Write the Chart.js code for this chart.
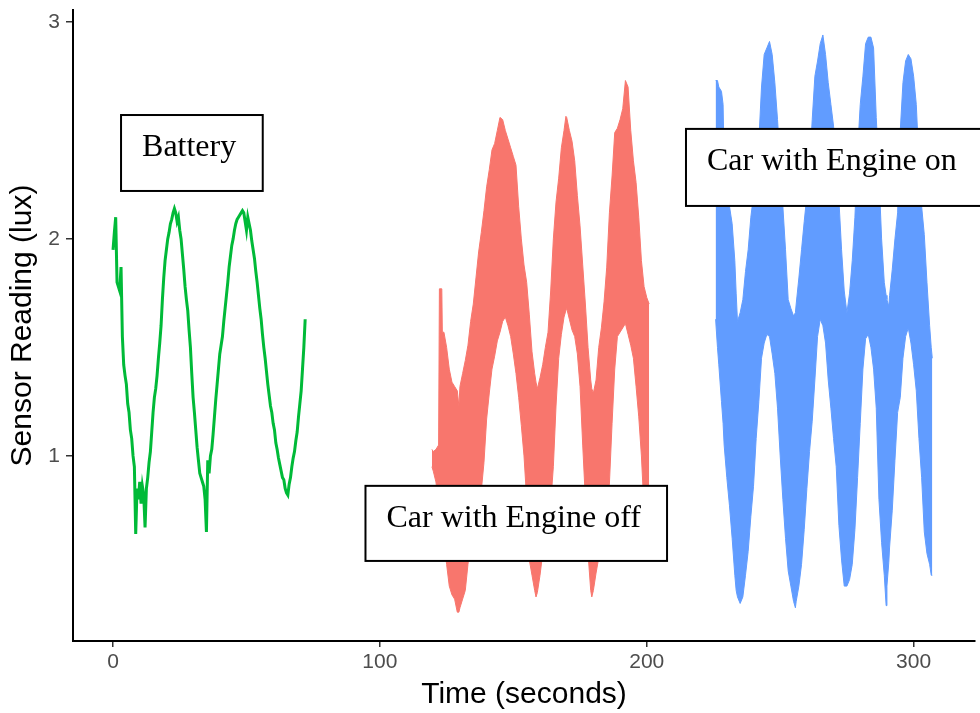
<!DOCTYPE html>
<html lang="en">
<head>
    <meta charset="UTF-8">
    <title>Sensor Reading over Time</title>
    <script src="https://cdn.jsdelivr.net/npm/chart.js"></script>
    <style>
        html, body { margin: 0; padding: 0; background: #fff; }
        #chart-container { width: 980px; height: 713px; }
    </style>
</head>
<body>
    <div id="chart-container">
        <canvas id="myChart" width="980" height="713"></canvas>
    </div>

    <script>
        // ---- data ----
        const xTicks = [0, 100, 200, 300];
        const yTicks = [1, 2, 3];

        // Battery: a single noisy line, 0.5 s steps
        const batteryTime = [
            0, 0.5, 1, 1.5, 2, 2.5, 3, 3.5, 4, 4.5, 5, 5.5, 6, 6.5, 7, 7.5, 8, 8.5, 9, 9.5,
            10, 10.5, 11, 11.5, 12, 12.5, 13, 13.5, 14, 14.5, 15, 15.5, 16, 16.5, 17, 17.5, 18, 18.5, 19, 19.5,
            20, 20.5, 21, 21.5, 22, 22.5, 23, 23.5, 24, 24.5, 25, 25.5, 26, 26.5, 27, 27.5, 28, 28.5, 29, 29.5,
            30, 30.5, 31, 31.5, 32, 32.5, 33, 33.5, 34, 34.5, 35, 35.5, 36, 36.5, 37, 37.5, 38, 38.5, 39, 39.5,
            40, 40.5, 41, 41.5, 42, 42.5, 43, 43.5, 44, 44.5, 45, 45.5, 46, 46.5, 47, 47.5, 48, 48.5, 49, 49.5,
            50, 50.5, 51, 51.5, 52, 52.5, 53, 53.5, 54, 54.5, 55, 55.5, 56, 56.5, 57, 57.5, 58, 58.5, 59, 59.5,
            60, 60.5, 61, 61.5, 62, 62.5, 63, 63.5, 64, 64.5, 65, 65.5, 66, 66.5, 67, 67.5, 68, 68.5, 69, 69.5,
            70, 70.5, 71, 71.5, 72
        ];
        const batteryReading = [
            1.95, 2.03, 2.10, 1.80, 1.78, 1.76, 1.87, 1.55, 1.42, 1.37, 1.33, 1.24, 1.20, 1.12, 1.08, 1.00, 0.95, 0.64, 0.85, 0.80,
            0.88, 0.78, 0.86, 0.82, 0.67, 0.85, 0.90, 0.97, 1.02, 1.11, 1.20, 1.27, 1.31, 1.37, 1.45, 1.52, 1.60, 1.72, 1.82, 1.90,
            1.95, 2.00, 2.03, 2.07, 2.09, 2.12, 2.14, 2.12, 2.08, 2.10, 2.04, 2.00, 1.93, 1.86, 1.78, 1.72, 1.67, 1.58, 1.50, 1.38,
            1.27, 1.20, 1.12, 1.04, 0.98, 0.92, 0.90, 0.88, 0.86, 0.80, 0.65, 0.98, 0.92, 1.00, 1.03, 1.10, 1.18, 1.26, 1.33, 1.40,
            1.47, 1.51, 1.55, 1.62, 1.68, 1.74, 1.80, 1.87, 1.92, 1.97, 2.00, 2.04, 2.07, 2.09, 2.10, 2.11, 2.12, 2.13, 2.12, 2.08,
            2.04, 2.10, 2.07, 2.04, 1.99, 1.95, 1.91, 1.85, 1.80, 1.74, 1.68, 1.63, 1.56, 1.50, 1.45, 1.39, 1.33, 1.28, 1.23, 1.20,
            1.15, 1.12, 1.06, 1.03, 0.99, 0.96, 0.93, 0.90, 0.89, 0.85, 0.83, 0.82, 0.87, 0.90, 0.95, 0.99, 1.02, 1.07, 1.11, 1.18,
            1.24, 1.30, 1.40, 1.50, 1.63
        ];

        // Car with engine off: fast oscillation, kept as its upper and lower envelope
        const engineOffTime = [
            119.5, 120, 121, 122, 122.3, 123.2, 123.4, 124, 125, 126, 127, 128, 129, 129.6, 130, 131, 132, 133, 134, 135,
            136, 137, 138, 139, 140, 141, 142, 143, 144, 145, 146, 147, 148, 149, 150, 151, 152, 153, 154, 155,
            156, 157, 158, 158.5, 159, 160, 161, 162, 163, 164, 165, 166, 167, 168, 169, 169.7, 170, 171, 172, 173,
            174, 175, 176, 177, 178, 179, 179.4, 180, 181, 182, 183, 184, 185, 186, 187, 188, 189, 190, 191, 192,
            193, 194, 195, 196, 197, 198, 199, 200, 200.9
        ];
        const engineOffUpper = [
            1.03, 1.02, 1.03, 1.05, 1.77, 1.77, 1.57, 1.57, 1.50, 1.40, 1.34, 1.32, 1.30, 1.23, 1.32, 1.38, 1.44, 1.51, 1.62, 1.70,
            1.82, 1.94, 2.03, 2.13, 2.24, 2.32, 2.41, 2.44, 2.50, 2.56, 2.55, 2.50, 2.46, 2.42, 2.38, 2.34, 2.15, 2.00, 1.88, 1.80,
            1.65, 1.48, 1.38, 1.34, 1.31, 1.36, 1.42, 1.50, 1.57, 1.76, 2.00, 2.17, 2.28, 2.42, 2.50, 2.565, 2.56, 2.50, 2.45, 2.36,
            2.20, 2.06, 1.88, 1.70, 1.50, 1.35, 1.31, 1.29, 1.35, 1.50, 1.59, 1.71, 1.87, 2.12, 2.29, 2.49, 2.51, 2.55, 2.60, 2.73,
            2.70, 2.50, 2.36, 2.26, 2.10, 1.90, 1.78, 1.73, 1.70
        ];
        const engineOffLower = [
            0.95, 0.93, 0.88, 0.78, 0.75, 0.70, 0.68, 0.60, 0.50, 0.40, 0.36, 0.34, 0.28, 0.28, 0.30, 0.34, 0.38, 0.50, 0.60, 0.66,
            0.72, 0.78, 0.84, 0.97, 1.17, 1.29, 1.40, 1.46, 1.53, 1.57, 1.62, 1.64, 1.60, 1.55, 1.47, 1.38, 1.27, 1.14, 1.00, 0.80,
            0.52, 0.45, 0.38, 0.35, 0.37, 0.45, 0.55, 0.60, 0.68, 0.78, 0.95, 1.23, 1.45, 1.56, 1.64, 1.67, 1.68, 1.63, 1.58, 1.55,
            1.47, 1.32, 1.05, 0.80, 0.55, 0.38, 0.35, 0.38, 0.46, 0.53, 0.65, 0.72, 0.80, 0.87, 1.15, 1.40, 1.55, 1.57, 1.59, 1.61,
            1.56, 1.51, 1.45, 1.32, 1.18, 1.00, 0.75, 0.65, 0.62
        ];

        // Car with engine on: same idea, wider swing
        const engineOnTime = [
            225.8, 226.5, 227, 228, 228.6, 229, 230, 231, 232, 233, 233.5, 234, 235, 236, 237, 238, 239, 240, 241, 242,
            243, 244, 245, 246, 247, 248, 249, 250, 251, 252, 253, 254, 255, 255.7, 256, 257, 258, 259, 260, 261,
            262, 263, 264, 265, 266, 267, 268, 269, 270, 271, 272, 273, 274, 275, 276, 277, 278, 279, 280, 281,
            282, 283, 284, 285, 286, 287, 288, 289, 289.7, 290, 290.7, 291, 292, 293, 294, 295, 296, 297, 298, 299,
            300, 301, 302, 303, 304, 305, 306, 306.6, 307
        ];
        const engineOnUpper = [
            2.73, 2.73, 2.70, 2.68, 2.62, 2.35, 2.20, 2.15, 2.07, 1.90, 1.75, 1.62, 1.66, 1.72, 1.85, 1.95, 2.10, 2.20, 2.32, 2.45,
            2.70, 2.85, 2.88, 2.91, 2.85, 2.72, 2.55, 2.35, 2.15, 1.95, 1.72, 1.68, 1.645, 1.66, 1.70, 1.82, 1.95, 2.08, 2.20, 2.32,
            2.55, 2.75, 2.82, 2.90, 2.94, 2.85, 2.72, 2.62, 2.52, 2.35, 2.18, 1.95, 1.76, 1.66, 1.75, 1.90, 2.10, 2.40, 2.62, 2.75,
            2.90, 2.93, 2.93, 2.88, 2.56, 2.30, 2.00, 1.80, 1.74, 1.72, 1.69, 1.74, 1.86, 2.00, 2.12, 2.50, 2.72, 2.82, 2.85, 2.83,
            2.75, 2.62, 2.35, 2.15, 2.02, 1.80, 1.60, 1.50, 1.45
        ];
        const engineOnLower = [
            1.63, 1.50, 1.42, 1.25, 1.15, 1.05, 0.90, 0.77, 0.62, 0.45, 0.38, 0.35, 0.32, 0.35, 0.45, 0.56, 0.72, 0.86, 1.08, 1.25,
            1.45, 1.52, 1.56, 1.55, 1.47, 1.38, 1.22, 1.00, 0.80, 0.62, 0.47, 0.40, 0.33, 0.30, 0.33, 0.40, 0.50, 0.66, 0.85, 1.02,
            1.16, 1.35, 1.55, 1.63, 1.60, 1.52, 1.35, 1.22, 1.08, 0.95, 0.68, 0.52, 0.40, 0.40, 0.43, 0.50, 0.66, 0.90, 1.15, 1.40,
            1.54, 1.56, 1.50, 1.40, 1.22, 0.80, 0.60, 0.45, 0.31, 0.40, 0.51, 0.58, 0.75, 0.98, 1.20, 1.27, 1.45, 1.55, 1.59, 1.52,
            1.42, 1.30, 1.08, 0.90, 0.65, 0.55, 0.50, 0.45, 0.45
        ];

        const GREEN = '#00BA38';
        const RED = '#F8766D';
        const BLUE = '#619CFF';

        function toPoints(xs, ys) {
            return xs.map((x, i) => ({ x: x, y: ys[i] }));
        }

        // text boxes, placed in data units
        const labels = [
            { text: 'Battery', x0: 3.0, x1: 56.1, y0: 2.571, y1: 2.221 },
            { text: 'Car with Engine off', x0: 94.6, x1: 207.6, y0: 0.862, y1: 0.516 },
            { text: 'Car with Engine on', x0: 214.7, x1: 340, y0: 2.507, y1: 2.152 }
        ];

        const labelBoxes = {
            id: 'labelBoxes',
            afterDatasetsDraw(chart) {
                const { ctx, scales: { x, y } } = chart;
                ctx.save();
                labels.forEach(l => {
                    const left = x.getPixelForValue(l.x0);
                    const right = x.getPixelForValue(l.x1);
                    const top = y.getPixelForValue(l.y0);
                    const bottom = y.getPixelForValue(l.y1);
                    ctx.fillStyle = '#fff';
                    ctx.fillRect(left, top, right - left, bottom - top);
                    ctx.strokeStyle = '#000';
                    ctx.lineWidth = 2;
                    ctx.strokeRect(left, top, right - left, bottom - top);
                    ctx.fillStyle = '#000';
                    ctx.font = '32px "Liberation Serif", "Times New Roman", serif';
                    ctx.textBaseline = 'alphabetic';
                    ctx.fillText(l.text, left + 21, top + 41);
                });
                ctx.restore();
            }
        };

        const axisFont = { family: '"Liberation Sans", Arial, sans-serif', size: 21 };
        const titleFont = { family: '"Liberation Sans", Arial, sans-serif', size: 30 };

        // keep the plot box fixed, tick labels must not push it in
        function fixY(s) {
            s.width = 73;
            s.paddingTop = 0;
            s.paddingBottom = 0;
        }
        function fixX(s) {
            s.height = 72;
            s.paddingLeft = 0;
            s.paddingRight = 0;
        }

        const ctx = document.getElementById('myChart').getContext('2d');
        const chartInstance = new Chart(ctx, {
            type: 'line',
            data: {
                datasets: [
                    {
                        label: 'Battery',
                        data: toPoints(batteryTime, batteryReading),
                        borderColor: GREEN,
                        borderWidth: 3,
                        fill: false
                    },
                    {
                        label: 'Engine off upper',
                        data: toPoints(engineOffTime, engineOffUpper),
                        borderColor: RED,
                        borderWidth: 1,
                        fill: false
                    },
                    {
                        label: 'Engine off lower',
                        data: toPoints(engineOffTime, engineOffLower),
                        borderColor: RED,
                        backgroundColor: RED,
                        borderWidth: 1,
                        fill: '-1'
                    },
                    {
                        label: 'Engine on upper',
                        data: toPoints(engineOnTime, engineOnUpper),
                        borderColor: BLUE,
                        borderWidth: 1,
                        fill: false
                    },
                    {
                        label: 'Engine on lower',
                        data: toPoints(engineOnTime, engineOnLower),
                        borderColor: BLUE,
                        backgroundColor: BLUE,
                        borderWidth: 1,
                        fill: '-1'
                    }
                ]
            },
            options: {
                responsive: false,
                animation: false,
                events: [],
                elements: { point: { radius: 0 }, line: { tension: 0 } },
                layout: { padding: { top: 10, right: 5, left: 0, bottom: 0 } },
                plugins: {
                    legend: { display: false },
                    tooltip: { enabled: false }
                },
                scales: {
                    x: {
                        type: 'linear',
                        min: -15,
                        max: 323,
                        afterFit: fixX,
                        afterBuildTicks: s => { s.ticks = xTicks.map(v => ({ value: v })); },
                        grid: { display: true, drawOnChartArea: false, drawTicks: true, tickLength: 6, tickColor: '#333', lineWidth: 1.5 },
                        border: { display: true, color: '#000', width: 2 },
                        ticks: { color: '#4D4D4D', font: axisFont, padding: 3, maxRotation: 0 },
                        title: { display: true, text: 'Time (seconds)', color: '#000', font: titleFont, padding: { top: 0, bottom: 0 } }
                    },
                    y: {
                        type: 'linear',
                        min: 0.147,
                        max: 3.055,
                        afterFit: fixY,
                        afterBuildTicks: s => { s.ticks = yTicks.map(v => ({ value: v })); },
                        grid: { display: true, drawOnChartArea: false, drawTicks: true, tickLength: 7, tickColor: '#333', lineWidth: 1.5 },
                        border: { display: true, color: '#000', width: 2 },
                        ticks: { color: '#4D4D4D', font: axisFont, padding: 6 },
                        title: { display: true, text: 'Sensor Reading (lux)', color: '#000', font: titleFont, padding: { top: 5, bottom: 0 } }
                    }
                }
            },
            plugins: [labelBoxes]
        });
    </script>
</body>
</html>
